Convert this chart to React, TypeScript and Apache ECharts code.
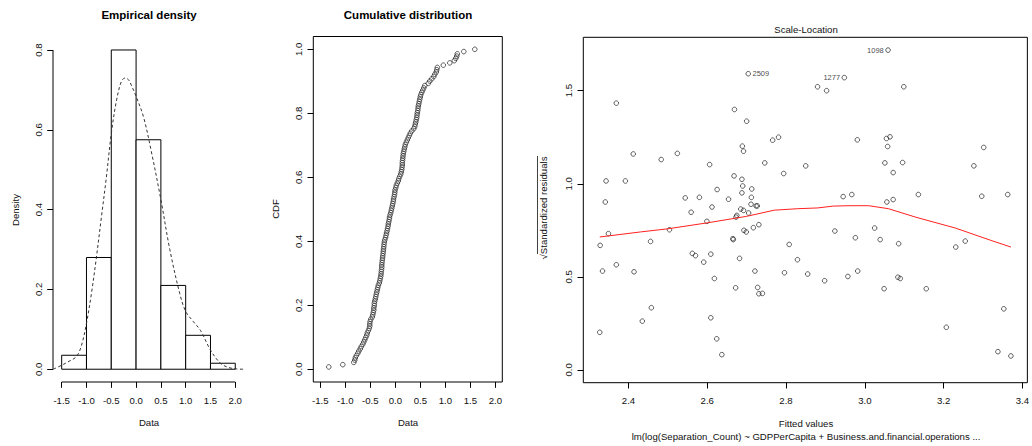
import React, { useEffect, useRef } from "react";
import * as echarts from "echarts";

// ---------- Panel 1: Empirical density ----------
const histBreaks = [-1.5, -1.0, -0.5, 0.0, 0.5, 1.0, 1.5, 2.0];
const histDensity = [0.035, 0.28, 0.8, 0.575, 0.21, 0.085, 0.015];
const densX = [-1.67, -1.5, -1.35, -1.2, -1.1, -1.0, -0.9, -0.8, -0.7, -0.6, -0.5, -0.4, -0.3, -0.22, -0.15, -0.09, 0.0, 0.15, 0.3, 0.5, 0.68, 0.88, 1.0, 1.15, 1.3, 1.5, 1.7, 1.85, 2.0, 2.16];
const densY = [0.0, 0.01, 0.02, 0.032, 0.06, 0.115, 0.19, 0.28, 0.38, 0.48, 0.59, 0.67, 0.72, 0.73, 0.725, 0.71, 0.684, 0.632, 0.55, 0.425, 0.3, 0.19, 0.145, 0.12, 0.097, 0.048, 0.015, 0.005, 0.001, 0.0];
const densXTicks = [-1.5, -1.0, -0.5, 0.0, 0.5, 1.0, 1.5, 2.0];
const densYTicks = [0.0, 0.2, 0.4, 0.6, 0.8];

// ---------- Panel 2: Cumulative distribution (sorted data) ----------
const cdfSorted = [-1.33, -1.05, -0.83, -0.81, -0.8, -0.78, -0.75, -0.73, -0.7, -0.68, -0.65, -0.63, -0.61, -0.59, -0.57, -0.56, -0.54, -0.52, -0.51, -0.51, -0.505, -0.49, -0.46, -0.45, -0.44, -0.43, -0.43, -0.42, -0.42, -0.41, -0.4, -0.39, -0.38, -0.37, -0.36, -0.35, -0.34, -0.32, -0.31, -0.3, -0.29, -0.285, -0.28, -0.275, -0.27, -0.27, -0.265, -0.26, -0.255, -0.25, -0.245, -0.24, -0.235, -0.23, -0.225, -0.22, -0.21, -0.195, -0.185, -0.175, -0.165, -0.155, -0.145, -0.14, -0.13, -0.12, -0.115, -0.105, -0.09, -0.08, -0.07, -0.06, -0.05, -0.04, -0.035, -0.025, -0.015, -0.01, -0.005, 0.01, 0.02, 0.04, 0.06, 0.07, 0.09, 0.11, 0.12, 0.13, 0.135, 0.14, 0.14, 0.145, 0.15, 0.155, 0.16, 0.17, 0.18, 0.19, 0.2, 0.22, 0.24, 0.26, 0.28, 0.3, 0.33, 0.37, 0.39, 0.4, 0.41, 0.42, 0.43, 0.435, 0.44, 0.45, 0.455, 0.46, 0.47, 0.48, 0.49, 0.5, 0.51, 0.53, 0.55, 0.57, 0.59, 0.66, 0.69, 0.73, 0.77, 0.79, 0.82, 0.83, 0.84, 0.96, 1.09, 1.18, 1.21, 1.23, 1.24, 1.37, 1.59];
const cdfXTicks = [-1.5, -1.0, -0.5, 0.0, 0.5, 1.0, 1.5, 2.0];
const cdfYTicks = [0.0, 0.2, 0.4, 0.6, 0.8, 1.0];

// ---------- Panel 3: Scale-Location ----------
const slFitted = [2.341, 2.343, 2.369, 2.392, 2.412, 2.483, 2.524, 2.544, 2.559, 2.58, 2.606, 2.612, 2.625, 2.654, 2.669, 2.668, 2.7, 2.689, 2.692, 2.688, 2.69, 2.688, 2.713, 2.712, 2.711, 2.724, 2.727, 2.685, 2.692, 2.675, 2.673, 2.705, 2.746, 2.766, 2.781, 2.704, 2.599, 2.504, 2.693, 2.699, 2.717, 2.731, 2.665, 2.666, 2.456, 2.808, 2.562, 2.57, 2.609, 2.591, 2.682, 2.829, 2.721, 2.796, 2.855, 2.618, 2.672, 2.728, 2.731, 2.74, 2.458, 2.435, 2.609, 2.624, 2.637, 2.328, 2.349, 2.334, 2.369, 2.414, 2.327, 3.059, 2.948, 2.88, 2.903, 3.099, 2.981, 3.055, 3.064, 3.058, 3.302, 2.85, 3.051, 3.096, 3.277, 2.794, 3.072, 2.945, 2.967, 3.136, 3.297, 3.363, 3.056, 3.072, 2.924, 3.025, 2.976, 3.039, 3.086, 2.898, 2.957, 2.982, 3.049, 3.084, 3.09, 3.156, 3.231, 3.255, 3.207, 3.353, 3.338, 3.371];
const slResid = [0.902, 1.015, 1.433, 1.015, 1.16, 1.13, 1.163, 0.924, 0.847, 0.927, 1.103, 0.875, 0.969, 0.917, 1.399, 1.042, 1.336, 1.202, 1.175, 1.024, 0.988, 0.951, 0.972, 0.927, 0.89, 0.881, 0.881, 0.864, 0.857, 0.83, 0.821, 0.843, 1.112, 1.234, 1.25, 1.591, 0.798, 0.753, 0.75, 0.741, 0.764, 0.78, 0.705, 0.7, 0.69, 0.674, 0.626, 0.614, 0.622, 0.579, 0.599, 0.592, 0.531, 0.522, 0.515, 0.491, 0.441, 0.443, 0.409, 0.411, 0.334, 0.262, 0.28, 0.167, 0.082, 0.669, 0.732, 0.531, 0.565, 0.527, 0.202, 1.718, 1.57, 1.521, 1.5, 1.521, 1.236, 1.243, 1.252, 1.2, 1.195, 1.096, 1.112, 1.114, 1.096, 1.055, 1.06, 0.931, 0.942, 0.942, 0.933, 0.942, 0.902, 0.915, 0.746, 0.762, 0.71, 0.7, 0.678, 0.479, 0.502, 0.531, 0.436, 0.498, 0.491, 0.436, 0.66, 0.692, 0.229, 0.328, 0.098, 0.075];
const slLabelIndex = [35, 71, 72];
const slLabelText = ["2509", "1098", "1277"];
const slLabelSide = ["right", "left", "left"];
const loessX = [2.327, 2.43, 2.5, 2.6, 2.7, 2.77, 2.83, 2.88, 2.92, 2.96, 3.01, 3.06, 3.13, 3.23, 3.32, 3.371];
const loessY = [0.714, 0.741, 0.758, 0.79, 0.825, 0.858, 0.866, 0.87, 0.88, 0.882, 0.882, 0.866, 0.82, 0.762, 0.696, 0.66];
const slXTicks = [2.4, 2.6, 2.8, 3.0, 3.2, 3.4];
const slYTicks = [0.0, 0.5, 1.0, 1.5];

const FONT = "'Liberation Sans', Arial, sans-serif";
const FS = 9.6;

function axisCommon(ticks: number[], isY: boolean, margin: number) {
  return {
    show: true,
    axisLine: { show: false, onZero: false, lineStyle: { color: "#000", width: 1 } },
    axisTick: {
      show: true,
      length: 5.8,
      inside: false,
      customValues: ticks,
      lineStyle: { color: "#000", width: 1 },
    },
    axisLabel: {
      show: true,
      customValues: ticks,
      formatter: (v: number) => v.toFixed(1),
      fontSize: FS,
      fontFamily: FONT,
      color: "#111",
      margin,
      rotate: isY ? 90 : 0,
    },
    splitLine: { show: false },
  };
}

export default function App() {
  const ref = useRef<HTMLDivElement>(null);

  useEffect(() => {
    if (!ref.current) return;
    const chart = echarts.init(ref.current, undefined, { renderer: "svg" });

    const d1XMin = -1.675, d1XMax = 2.196, d1YMin = -0.032, d1YMax = 0.832;
    const n = cdfSorted.length;

    const slPoints = slFitted.map((x, i) => {
      const k = slLabelIndex.indexOf(i);
      if (k >= 0) {
        return {
          value: [x, slResid[i]],
          label: {
            show: true,
            formatter: slLabelText[k],
            position: slLabelSide[k],
            distance: 1.5,
            fontSize: 7.5,
            fontFamily: FONT,
            color: "#111",
          },
        };
      }
      return { value: [x, slResid[i]] };
    });

    const circleStyle = {
      color: "rgba(0,0,0,0)",
      borderColor: "#222",
      borderWidth: 0.9,
    };

    const option: any = {
      animation: false,
      backgroundColor: "#fff",
      grid: [
        { left: 53, top: 37.2, width: 192, height: 344.8, show: false },
        { left: 313.3, top: 36.5, width: 189, height: 345.5, show: true, borderColor: "#000", borderWidth: 1, backgroundColor: "transparent" },
        { left: 583.3, top: 37.3, width: 445.7, height: 345.4, show: true, borderColor: "#000", borderWidth: 1, backgroundColor: "transparent" },
      ],
      xAxis: [
        { type: "value", gridIndex: 0, min: d1XMin, max: d1XMax, position: "bottom", ...axisCommon(densXTicks, false, 13) },
        { type: "value", gridIndex: 1, min: -1.64, max: 2.14, position: "bottom", ...axisCommon(cdfXTicks, false, 13) },
        { type: "value", gridIndex: 2, min: 2.2852, max: 3.4128, position: "bottom", ...axisCommon(slXTicks, false, 13) },
      ],
      yAxis: [
        { type: "value", gridIndex: 0, min: d1YMin, max: d1YMax, position: "left", ...axisCommon(densYTicks, true, 10) },
        { type: "value", gridIndex: 1, min: -0.04, max: 1.04, position: "left", ...axisCommon(cdfYTicks, true, 10) },
        { type: "value", gridIndex: 2, min: -0.0687, max: 1.7867, position: "left", ...axisCommon(slYTicks, true, 10) },
      ],
      series: [
        {
          type: "custom",
          xAxisIndex: 0,
          yAxisIndex: 0,
          renderItem: (params: any, api: any) => {
            const x0 = api.value(0), x1 = api.value(1), h = api.value(2);
            const p0 = api.coord([x0, h]);
            const p1 = api.coord([x1, 0]);
            return {
              type: "rect",
              shape: { x: p0[0], y: p0[1], width: p1[0] - p0[0], height: p1[1] - p0[1] },
              style: { fill: "#fff", stroke: "#000", lineWidth: 1 },
            };
          },
          encode: { x: [0, 1], y: 2 },
          data: histDensity.map((h, i) => [histBreaks[i], histBreaks[i + 1], h]),
          silent: true,
        },
        {
          type: "line",
          xAxisIndex: 0,
          yAxisIndex: 0,
          data: densX.map((x, i) => [x, densY[i]]),
          smooth: 0.35,
          symbol: "none",
          lineStyle: { color: "#333", width: 1, type: [3, 2.5] },
          silent: true,
        },
        // R-style axis lines for panel 1 (from first to last tick)
        {
          type: "line",
          xAxisIndex: 0,
          yAxisIndex: 0,
          data: [[densXTicks[0], d1YMin], [densXTicks[densXTicks.length - 1], d1YMin]],
          symbol: "none",
          clip: false,
          lineStyle: { color: "#000", width: 1 },
          silent: true,
        },
        {
          type: "line",
          xAxisIndex: 0,
          yAxisIndex: 0,
          data: [[d1XMin, densYTicks[0]], [d1XMin, densYTicks[densYTicks.length - 1]]],
          symbol: "none",
          clip: false,
          lineStyle: { color: "#000", width: 1 },
          silent: true,
        },
        {
          type: "scatter",
          xAxisIndex: 1,
          yAxisIndex: 1,
          data: cdfSorted.map((x, i) => [x, (i + 1) / n]),
          symbol: "circle",
          symbolSize: 4.6,
          itemStyle: circleStyle,
          silent: true,
        },
        {
          type: "scatter",
          xAxisIndex: 2,
          yAxisIndex: 2,
          data: slPoints,
          symbol: "circle",
          symbolSize: 4.6,
          itemStyle: circleStyle,
          silent: true,
        },
        {
          type: "line",
          xAxisIndex: 2,
          yAxisIndex: 2,
          data: loessX.map((x, i) => [x, loessY[i]]),
          symbol: "none",
          lineStyle: { color: "#ff2020", width: 1 },
          silent: true,
        },
      ],
      graphic: [
        { type: "text", x: 149, y: 15, style: { text: "Empirical density", fontSize: 11.5, fontWeight: "bold", fontFamily: FONT, fill: "#000", align: "center", verticalAlign: "middle" } },
        { type: "text", x: 408, y: 15, style: { text: "Cumulative distribution", fontSize: 11.5, fontWeight: "bold", fontFamily: FONT, fill: "#000", align: "center", verticalAlign: "middle" } },
        { type: "text", x: 806, y: 29.5, style: { text: "Scale-Location", fontSize: FS, fontFamily: FONT, fill: "#111", align: "center", verticalAlign: "middle" } },
        { type: "text", x: 149, y: 422, style: { text: "Data", fontSize: FS, fontFamily: FONT, fill: "#111", align: "center", verticalAlign: "middle" } },
        { type: "text", x: 408, y: 422, style: { text: "Data", fontSize: FS, fontFamily: FONT, fill: "#111", align: "center", verticalAlign: "middle" } },
        { type: "text", x: 806, y: 423, style: { text: "Fitted values", fontSize: FS, fontFamily: FONT, fill: "#111", align: "center", verticalAlign: "middle" } },
        { type: "text", x: 806, y: 436, style: { text: "lm(log(Separation_Count) ~ GDPPerCapita + Business.and.financial.operations ...", fontSize: FS, fontFamily: FONT, fill: "#111", align: "center", verticalAlign: "middle" } },
        { type: "text", x: 15, y: 210, rotation: Math.PI / 2, style: { text: "Density", fontSize: FS, fontFamily: FONT, fill: "#111", align: "center", verticalAlign: "middle" } },
        { type: "text", x: 275, y: 209, rotation: Math.PI / 2, style: { text: "CDF", fontSize: FS, fontFamily: FONT, fill: "#111", align: "center", verticalAlign: "middle" } },
        { type: "text", x: 543, y: 208, rotation: Math.PI / 2, style: { text: "\u221AStandardized residuals", fontSize: FS, fontFamily: FONT, fill: "#111", align: "center", verticalAlign: "middle" } },
        { type: "line", shape: { x1: 537.5, y1: 156, x2: 537.5, y2: 254 }, style: { stroke: "#111", lineWidth: 0.8 } },
      ],
    };

    chart.setOption(option);
    return () => chart.dispose();
  }, []);

  return (
    <div
      ref={ref}
      style={{ position: "fixed", left: 0, top: 0, width: 1032, height: 446, background: "#fff" }}
    />
  );
}
